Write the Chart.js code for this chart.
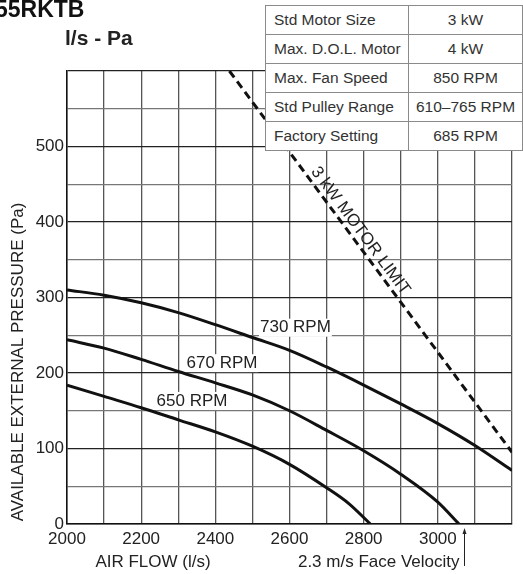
<!DOCTYPE html>
<html>
<head>
<meta charset="utf-8">
<script src="https://cdn.jsdelivr.net/npm/chart.js@4.4.1/dist/chart.umd.min.js"></script>
<style>
  html, body { margin: 0; padding: 0; background: #fff; }
  #wrap { position: relative; width: 523px; height: 574px; overflow: hidden; font-family: "Liberation Sans", Arial, sans-serif; }
  #fanChart { position: absolute; left: 0; top: 0; }
  .model { position: absolute; left: -5px; top: -2px; font-size: 23px; line-height: 1; font-weight: bold; color: #111; white-space: nowrap; }
  .units { position: absolute; left: 65px; top: 27px; font-size: 21px; line-height: 1; font-weight: bold; color: #222; }
  table.spec { position: absolute; left: 265px; top: 5px; width: 258px; border-collapse: collapse; table-layout: fixed; background: #fff; font-size: 15.5px; color: #333; }
  table.spec td { border: 1.5px solid #8a8a8a; height: 28px; padding: 0 0 0 8px; white-space: nowrap; }
  table.spec td.val { text-align: center; padding: 0; }
</style>
</head>
<body>
<div id="wrap">
  <canvas id="fanChart" width="523" height="574"></canvas>
  <div class="model">55RKTB</div>
  <div class="units">l/s - Pa</div>
  <table class="spec" id="specTable">
    <colgroup><col style="width:143px"><col></colgroup>
  </table>
</div>
<script>
// Courbes ventilateur : débit (l/s) -> pression disponible (Pa)
const flow730 = [2000, 2100, 2200, 2300, 2400, 2500, 2600, 2700, 2800, 2900, 3000, 3100, 3200];
const pa730   = [310, 303, 293, 280, 264, 247, 230, 208, 184, 159, 133, 104, 71];

const flow670 = [2000, 2100, 2200, 2300, 2400, 2500, 2600, 2700, 2800, 2900, 3000, 3057];
const pa670   = [244, 233, 218, 202, 187, 171, 150, 124, 97, 66, 29, 0];

const flow650 = [2000, 2100, 2200, 2300, 2400, 2500, 2600, 2700, 2760, 2818];
const pa650   = [184, 169, 154, 138, 122, 103, 79, 48, 27, 0];

// limite moteur 3 kW (droite en pointillés)
const motorFlow = [2438, 3200];
const motorPa   = [600, 95];

// vitesse frontale 2.3 m/s
const faceVelocityFlow = 3070;

const curveNames = ['730 RPM', '670 RPM', '650 RPM'];
const xTickLabels = [2000, 2200, 2400, 2600, 2800, 3000];
const yTickLabels = [0, 100, 200, 300, 400, 500];

// tableau des caractéristiques
const specNames  = ['Std Motor Size', 'Max. D.O.L. Motor', 'Max. Fan Speed', 'Std Pulley Range', 'Factory Setting'];
const specValues = ['3 kW', '4 kW', '850 RPM', '610–765 RPM', '685 RPM'];

const table = document.getElementById('specTable');
specNames.forEach((name, i) => {
    const tr = document.createElement('tr');
    tr.innerHTML = '<td>' + name + '</td><td class="val">' + specValues[i] + '</td>';
    table.appendChild(tr);
});

const toPoints = (xs, ys) => xs.map((v, i) => ({ x: v, y: ys[i] }));

// où poser les étiquettes des courbes (en unités du graphique)
const labelSpots = [[2616, 260], [2418, 213], [2337, 163]];
const FONT = '"Liberation Sans", Arial, sans-serif';
Chart.defaults.font.family = FONT;

const annotations = {
    id: 'annotations',
    afterDatasetsDraw(chart) {
        const { ctx, chartArea } = chart;
        const x = chart.scales.x, y = chart.scales.y;
        ctx.save();
        ctx.font = '17px ' + FONT;
        ctx.fillStyle = '#222';
        ctx.textBaseline = 'middle';
        ctx.textAlign = 'center';

        // étiquettes RPM sur fond blanc
        curveNames.forEach((name, i) => {
            const px = x.getPixelForValue(labelSpots[i][0]);
            const py = y.getPixelForValue(labelSpots[i][1]);
            const w = ctx.measureText(name).width;
            ctx.fillStyle = '#fff';
            ctx.fillRect(px - w / 2 - 1, py - 9, w + 2, 18);
            ctx.fillStyle = '#222';
            ctx.fillText(name, px, py);
        });

        // texte le long de la limite moteur
        const x0 = x.getPixelForValue(motorFlow[0]), y0 = y.getPixelForValue(motorPa[0]);
        const x1 = x.getPixelForValue(motorFlow[1]), y1 = y.getPixelForValue(motorPa[1]);
        const len = Math.hypot(x1 - x0, y1 - y0);
        const ux = (x1 - x0) / len, uy = (y1 - y0) / len;
        const t = 0.435 * len;
        const cx = x0 + ux * t + uy * 10, cy = y0 + uy * t - ux * 10;
        ctx.translate(cx, cy);
        ctx.rotate(Math.atan2(uy, ux));
        ctx.fillText('3 kW MOTOR LIMIT', 0, 0);
        ctx.setTransform(1, 0, 0, 1, 0, 0);

        // titres des axes
        ctx.fillText('AIR FLOW (l/s)', chartArea.left + 86, chartArea.bottom + 38);
        ctx.translate(18, chartArea.bottom - 162);
        ctx.rotate(-Math.PI / 2);
        ctx.fillText('AVAILABLE EXTERNAL PRESSURE (Pa)', 0, 0);
        ctx.setTransform(1, 0, 0, 1, 0, 0);

        // flèche vitesse frontale
        const ax = Math.round(x.getPixelForValue(faceVelocityFlow)) + 0.5;
        const top = chartArea.bottom + 4;
        ctx.strokeStyle = '#222';
        ctx.lineWidth = 1;
        ctx.beginPath();
        ctx.moveTo(ax, top + 2);
        ctx.lineTo(ax, chartArea.bottom + 42);
        ctx.stroke();
        ctx.beginPath();
        ctx.moveTo(ax, top);
        ctx.lineTo(ax - 2, top + 6);
        ctx.lineTo(ax + 2, top + 6);
        ctx.closePath();
        ctx.fill();
        ctx.textAlign = 'right';
        ctx.fillText('2.3 m/s Face Velocity', ax - 5, chartArea.bottom + 38);
        ctx.restore();
    }
};

const curveStyle = {
    borderColor: '#111',
    borderWidth: 3,
    pointRadius: 0,
    fill: false,
    cubicInterpolationMode: 'monotone'
};

const ctx = document.getElementById('fanChart').getContext('2d');
const fanChart = new Chart(ctx, {
    type: 'line',
    data: {
        datasets: [
            { ...curveStyle, label: curveNames[0], data: toPoints(flow730, pa730) },
            { ...curveStyle, label: curveNames[1], data: toPoints(flow670, pa670) },
            { ...curveStyle, label: curveNames[2], data: toPoints(flow650, pa650) },
            { label: '3 kW MOTOR LIMIT', data: toPoints(motorFlow, motorPa), borderColor: '#111',
              borderWidth: 3, borderDash: [8, 5], pointRadius: 0, tension: 0, fill: false }
        ]
    },
    options: {
        responsive: false,
        animation: false,
        layout: { padding: { top: 71, right: 11, left: 0, bottom: 0 } },
        plugins: { legend: { display: false }, tooltip: { enabled: false } },
        scales: {
            x: {
                type: 'linear',
                min: 2000,
                max: 3200,
                ticks: {
                    stepSize: 100,
                    autoSkip: false,
                    maxRotation: 0,
                    padding: 5,
                    color: '#222',
                    font: { size: 17 },
                    callback: v => xTickLabels.includes(v) ? String(v) : ''
                },
                grid: { color: '#555', lineWidth: 1.3, drawTicks: false },
                border: { color: '#111', width: 1.5 },
                afterFit: s => { s.height = 50; }
            },
            y: {
                min: 0,
                max: 600,
                ticks: {
                    stepSize: 50,
                    autoSkip: false,
                    padding: 3,
                    color: '#222',
                    font: { size: 17 },
                    callback: v => yTickLabels.includes(v) ? String(v) : ''
                },
                grid: {
                    color: c => (c.tick && c.tick.value % 100 === 0) ? '#222' : '#777',
                    lineWidth: 1.3,
                    drawTicks: false
                },
                border: { color: '#111', width: 1.5 },
                afterFit: s => { s.width = 67; }
            }
        }
    },
    plugins: [annotations]
});
</script>
</body>
</html>
